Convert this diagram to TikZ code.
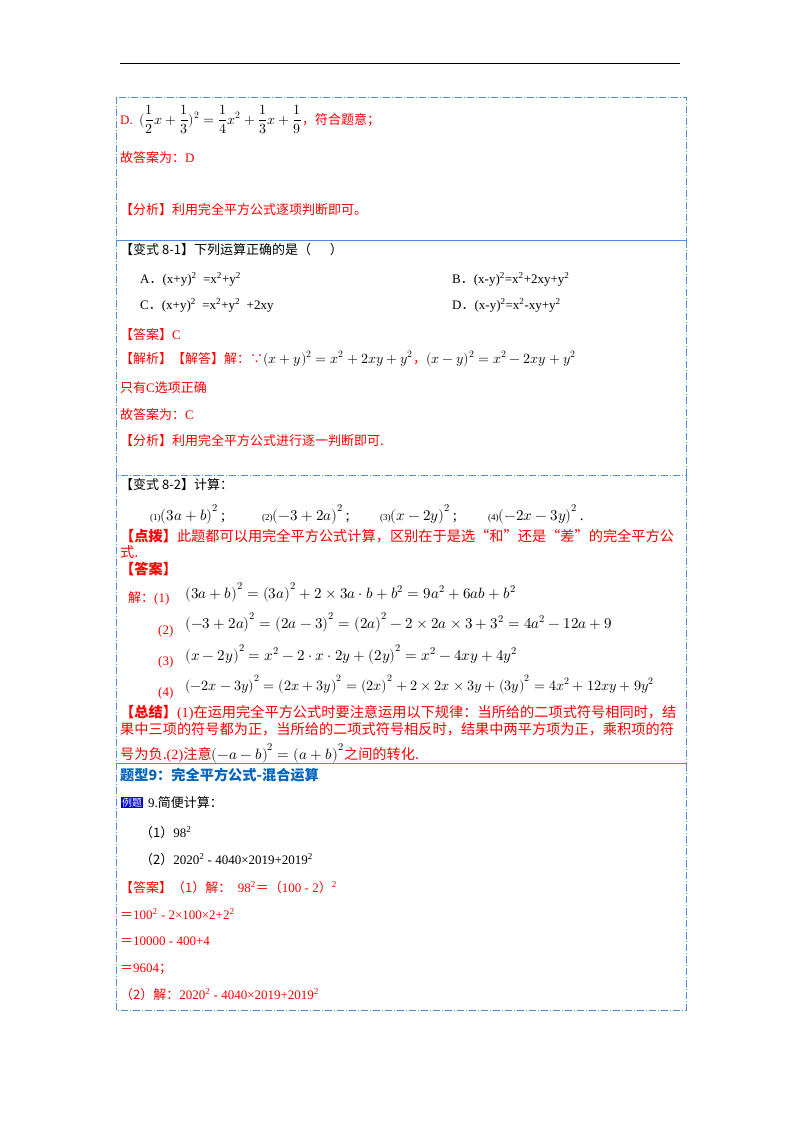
\documentclass[tikz,border=0pt]{standalone}
\usepackage{fontspec}
\usepackage{unicode-math}
\setmainfont{Liberation Serif}
\setmathfont{Latin Modern Math}
\newfontfamily\cjk{Noto Sans CJK SC}
\newcommand{\zh}[1]{{\cjk #1}}
\definecolor{bx}{RGB}{80,140,220}
\definecolor{rd}{RGB}{255,0,0}
\definecolor{tb}{RGB}{0,100,190}
\begin{document}
\begin{tikzpicture}[x=1pt,y=-1pt,
 t/.style={anchor=base west,inner sep=0pt,font=\fontsize{13}{15}\selectfont},
 r/.style={t,text=rd},
 eq/.style={t,font=\fontsize{15}{17}\selectfont},
 big/.style={font=\fontsize{14.2}{16}\selectfont},
 box/.style={draw=bx,line width=0.8pt,dash pattern=on 7pt off 2pt on 1pt off 2pt}]
\useasboundingbox (0,0) rectangle (800,1132);
\fill[white] (0,0) rectangle (800,1132);
\draw[line width=0.8pt] (120,63) -- (680,63);
\draw[box] (116,97) rectangle (686,240);
\draw[box] (116,240) rectangle (686,475);
\draw[box] (116,475) rectangle (686,763);
\draw[box] (116,763) rectangle (686,1010);
% box1
\node[r] (l1) at (120,124) {D.\ \ \textcolor{black}{\fontsize{14}{16}\selectfont$(\displaystyle\frac12x+\frac13)^{2}=\frac14x^2+\frac13x+\frac19$}\zh{，符合题意；}};
\node[r] (l2) at (120,162) {\zh{故答案为：}D};
\node[r] (l3) at (120,214) {\zh{【分析】利用完全平方公式逐项判断即可。}};
% box2
\node[t] (m1) at (120,254) {\zh{【变式 8-1】下列运算正确的是（\quad\ \ ）}};
\node[t] (ma) at (140,283) {A\zh{．}(x+y)\textsuperscript{2} \ =x\textsuperscript{2}+y\textsuperscript{2}};
\node[t] (mb) at (452,283) {B\zh{．}(x-y)\textsuperscript{2}=x\textsuperscript{2}+2xy+y\textsuperscript{2}};
\node[t] (mc) at (140,309) {C\zh{．}(x+y)\textsuperscript{2} \ =x\textsuperscript{2}+y\textsuperscript{2} \ +2xy};
\node[t] (md) at (452,309) {D\zh{．}(x-y)\textsuperscript{2}=x\textsuperscript{2}-xy+y\textsuperscript{2}};
\node[r] (m2) at (120,339) {\zh{【答案】}C};
\node[r] (m3) at (120,363) {\zh{【解析】【解答】解：∵}\textcolor{black}{\fontsize{14}{16}\selectfont$(x+y)^2=x^2+2xy+y^2$}\zh{，}\textcolor{black}{\fontsize{14}{16}\selectfont$(x-y)^2=x^2-2xy+y^2$}};
\node[r] (m4) at (120,392) {\zh{只有}C\zh{选项正确}};
\node[r] (m5) at (120,419) {\zh{故答案为：}C};
\node[r] (m6) at (120,445) {\zh{【分析】利用完全平方公式进行逐一判断即可.}};
% box3
\node[t] (n1) at (120,489) {\zh{【变式 8-2】计算：}};
\node[eq] (n2) at (150,520) {{\small(1)}$\left(3a+b\right)^2$\,;};
\node[eq] (n3) at (262,520) {{\small(2)}$\left(-3+2a\right)^2$\,;};
\node[eq] (n4) at (380,520) {{\small(3)}$\left(x-2y\right)^2$\,;};
\node[eq] (n5) at (488,520) {{\small(4)}$\left(-2x-3y\right)^2$\,.};
\node[r,big] (n6) at (120,541) {\zh{\textbf{【点拨】}此题都可以用完全平方公式计算，区别在于是选“和”还是“差”的完全平方公}};
\node[r,big] (n7) at (120,557) {\zh{式.}};
\node[r,big] (n8) at (120,574) {\zh{\textbf{【答案】}}};
\node[r] (n9) at (128,602) {\zh{解：}(1)};
\node[eq] (e1) at (185,598) {$\left(3a+b\right)^2=\left(3a\right)^2+2\times3a\cdot b+b^2=9a^2+6ab+b^2$};
\node[r] (n10) at (158,634) {(2)};
\node[eq] (e2) at (185,628) {$\left(-3+2a\right)^2=\left(2a-3\right)^2=\left(2a\right)^2-2\times2a\times3+3^2=4a^2-12a+9$};
\node[r] (n11) at (158,665) {(3)};
\node[eq] (e3) at (185,660) {$\left(x-2y\right)^2=x^2-2\cdot x\cdot2y+\left(2y\right)^2=x^2-4xy+4y^2$};
\node[r] (n12) at (158,696) {(4)};
\node[eq,font=\fontsize{14.2}{16}\selectfont] (e4) at (185,690) {$\left(-2x-3y\right)^2=\left(2x+3y\right)^2=\left(2x\right)^2+2\times2x\times3y+\left(3y\right)^2=4x^2+12xy+9y^2$};
\node[r,big] (n13) at (120,717) {\zh{\textbf{【总结】}}(1)\zh{在运用完全平方公式时要注意运用以下规律：当所给的二项式符号相同时，结}};
\node[r,big] (n14) at (120,734) {\zh{果中三项的符号都为正，当所给的二项式符号相反时，结果中两平方项为正，乘积项的符}};
\node[r,big] (n15) at (120,759) {\zh{号为负.}(2)\zh{注意}\textcolor{black}{\fontsize{15}{17}\selectfont$\left(-a-b\right)^2=\left(a+b\right)^2$}\zh{之间的转化.}};
% box4
\node[t,text=tb,big] (p1) at (120,780) {\zh{\textbf{题型9：完全平方公式-混合运算}}};
\node[t,fill=blue!85!black,text=white,inner sep=1pt,font=\fontsize{10}{12}\selectfont] (p2) at (121,806) {\zh{例题}};
\node[t] (p3) at (148,807) {9.\zh{简便计算：}};
\node[t] (p4) at (140,837) {\zh{（1）}98\textsuperscript{2}};
\node[t] (p5) at (140,864) {\zh{（2）}2020\textsuperscript{2} - 4040×2019+2019\textsuperscript{2}};
\node[r] (p6) at (120,892) {\zh{【答案】（1）解：}\ \ 98\textsuperscript{2}\zh{＝（}100 - 2\zh{）}\textsuperscript{2}};
\node[r] (p7) at (120,919) {\zh{＝}100\textsuperscript{2} - 2×100×2+2\textsuperscript{2}};
\node[r] (p8) at (120,945) {\zh{＝}10000 - 400+4};
\node[r] (p9) at (120,972) {\zh{＝}9604\zh{；}};
\node[r] (p10) at (120,999) {\zh{（2）解：}2020\textsuperscript{2} - 4040×2019+2019\textsuperscript{2}};
\end{tikzpicture}
\end{document}
